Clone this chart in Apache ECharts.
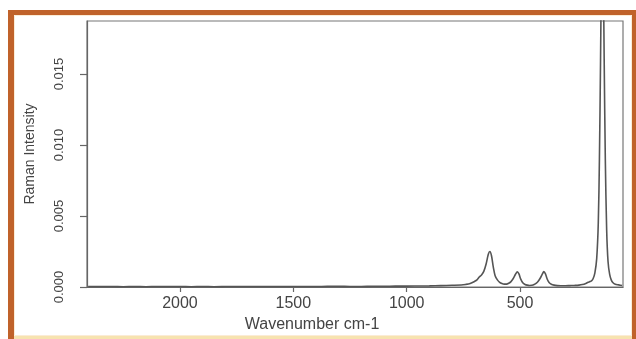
<!DOCTYPE html>
<html>
<head>
<meta charset="utf-8">
<script src="https://cdn.jsdelivr.net/npm/echarts@6/dist/echarts.min.js"></script>
<style>html,body{margin:0;padding:0;background:#fff}#c{width:636px;height:339px}</style>
</head>
<body>
<div id="c"></div>
<script>
// Raman spectrum
var wavenumber = [2405,2350,2300,2250,2200,2150,2100,2050,2000,1950,1900,1850,1800,1750,1700,1650,1600,1550,1500,1450,1400,1350,1300,1250,1200,1150,1100,1050,1000,950,900,850,800,760,740,720,700,690,680,670,660,650,640,633,626,618,610,600,590,580,570,560,550,540,530,520,512,505,497,488,478,468,458,448,438,428,420,410,402,395,388,380,372,362,350,335,320,300,280,260,240,225,210,200,192,185,178,170,162,155,150,145,140,137,134,129,124,118,112,105,98,90,80,65,50];
var intensity = [0.00004,0.00003,0.00003,0.00002,0.00004,0.00002,0.00004,0.00003,0.00003,0.00002,0.00004,0.00002,0.00003,0.00004,0.00003,0.00004,0.00003,0.00004,0.00004,0.00003,0.00003,0.00005,0.00005,0.00004,0.00004,0.00005,0.00005,0.00006,0.00006,0.00007,0.00008,0.0001,0.00012,0.00014,0.00018,0.00025,0.0004,0.0005,0.0007,0.00085,0.0011,0.0016,0.0023,0.0025,0.0022,0.0014,0.0008,0.0005,0.00033,0.00024,0.0002,0.0002,0.00026,0.00038,0.0006,0.0009,0.00107,0.00092,0.00055,0.0003,0.00018,0.00013,0.00011,0.00012,0.00017,0.00027,0.0004,0.00065,0.0009,0.00108,0.00092,0.00055,0.00032,0.00019,0.00013,0.0001,0.00009,0.00009,0.0001,0.00011,0.00013,0.00017,0.00025,0.00033,0.00038,0.00043,0.00058,0.001,0.002,0.0045,0.009,0.016,0.024,0.026,0.024,0.016,0.009,0.004,0.0018,0.0009,0.0005,0.0003,0.0002,0.00015,0.0001];
var xTicks = [500,1000,1500,2000];
var yTicks = [0,0.005,0.010,0.015];

var chart = echarts.init(document.getElementById('c'), null, {renderer:'canvas'});
var pts = wavenumber.map(function(w,i){return [w, intensity[i]];});
var txt = '#444';
var axisCol = '#666';
chart.setOption({
  animation:false,
  backgroundColor:'#ffffff',
  grid:{left:87, top:21, right:13, bottom:52, show:true, borderColor:'#777', borderWidth:1.2, backgroundColor:'transparent'},
  xAxis:{
    type:'value', inverse:true, min:46, max:2410,
    name:'Wavenumber cm-1', nameLocation:'middle', nameGap:29,
    nameTextStyle:{fontFamily:'Liberation Sans', fontSize:16, color:txt, padding:[0,86,0,0]},
    axisLine:{show:true, onZero:false, lineStyle:{color:axisCol, width:1.2}},
    axisTick:{show:true, length:5, customValues:xTicks, lineStyle:{color:axisCol, width:1.2}},
    axisLabel:{customValues:xTicks, fontFamily:'Liberation Sans', fontSize:16, color:txt, margin:9,
      formatter:function(v){return String(v);}},
    splitLine:{show:false}
  },
  yAxis:{
    type:'value', min:0, max:0.01873,
    name:'Raman Intensity', nameLocation:'middle', nameRotate:90, nameGap:50,
    nameTextStyle:{fontFamily:'Liberation Sans', fontSize:14, color:txt},
    axisLine:{show:true, lineStyle:{color:axisCol, width:1.2}},
    axisTick:{show:true, length:7, customValues:yTicks, lineStyle:{color:axisCol, width:1.2}},
    axisLabel:{customValues:yTicks, rotate:90, fontFamily:'Liberation Sans', fontSize:13, color:txt, margin:21,
      formatter:function(v){return v.toFixed(3);}},
    splitLine:{show:false}
  },
  series:[{
    type:'line', data:pts, showSymbol:false, smooth:0.3, clip:true,
    lineStyle:{color:'#555', width:1.6}
  }],
  graphic:[
    {type:'rect', shape:{x:8,y:10,width:6,height:329}, style:{fill:'#c0622a'}, silent:true},
    {type:'rect', shape:{x:8,y:10,width:628,height:5}, style:{fill:'#c0622a'}, silent:true},
    {type:'rect', shape:{x:632,y:10,width:4,height:329}, style:{fill:'#c0622a'}, silent:true},
    {type:'rect', shape:{x:14,y:336,width:618,height:3}, style:{fill:'#f7e3b0'}, silent:true},
    {type:'rect', shape:{x:14.5,y:15.5,width:617,height:320}, style:{fill:'none', stroke:'#fbecd6', lineWidth:1}, silent:true}
  ]
});
</script>
</body>
</html>
